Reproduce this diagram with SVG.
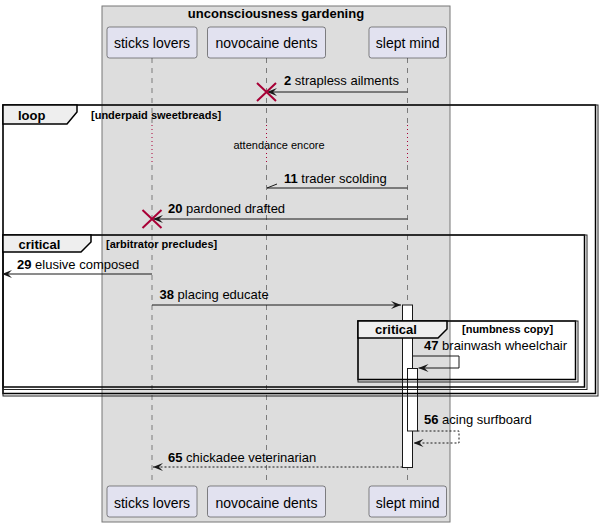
<svg xmlns="http://www.w3.org/2000/svg" width="602" height="527" viewBox="0 0 602 527">
<style>
text{font-family:"Liberation Sans",Arial,sans-serif;fill:#000}
.pbox{fill:#E2E2F0;stroke:#181818;stroke-width:0.5}
.pname{font-size:14px;text-anchor:middle}
.life{stroke:#181818;stroke-width:0.5;stroke-dasharray:5,5;fill:none}
.delay{stroke:#A80036;stroke-width:1;stroke-dasharray:1,3;fill:none}
.msg{stroke:#181818;stroke-width:1;fill:none}
.dash{stroke-dasharray:2,2}
.lbl{font-size:13px}
.num{font-weight:bold}
.frame{fill:none;stroke:#000;stroke-width:1.5}
.frame2{fill:none;stroke:#222;stroke-width:1}
.tab{fill:#EEEEEE;stroke:#000;stroke-width:1.5}
.ftitle{font-size:13px;font-weight:bold}
.fcond{font-size:11px;font-weight:bold}
.act{fill:#FFFFFF;stroke:#181818;stroke-width:1}
.kill{stroke:#A80036;stroke-width:2}
</style>
<defs>
<marker id="ah" viewBox="0 0 10 10" markerWidth="10" markerHeight="10" refX="10" refY="5" orient="auto" markerUnits="userSpaceOnUse">
<path d="M0,1 L10,5 L0,9 L4,5 Z" fill="#181818"/>
</marker>
</defs>

<g id="box">
<rect x="102" y="6" width="348" height="516" fill="#DDDDDD" stroke="#777777" stroke-width="1"/>
<text x="276" y="18" class="ftitle" text-anchor="middle">unconsciousness gardening</text>
</g>

<g id="lifelines">
<path class="life" d="M152,58 V125 M152,165 V485"/>
<path class="life" d="M266.5,58 V125 M266.5,165 V485"/>
<path class="life" d="M407.5,58 V125 M407.5,165 V485"/>
<path class="delay" d="M152,125 V165 M266.5,125 V165 M407.5,125 V165"/>
<text x="279" y="149" font-size="11" text-anchor="middle">attendance encore</text>
</g>

<g id="sticks-lovers">
<rect class="pbox" x="107" y="27" width="90" height="31" rx="2.5"/>
<text class="pname" x="152" y="48">sticks lovers</text>
<rect class="pbox" x="107" y="486" width="90" height="31" rx="2.5"/>
<text class="pname" x="152" y="508">sticks lovers</text>
</g>
<g id="novocaine-dents">
<rect class="pbox" x="207.5" y="27" width="118" height="31" rx="2.5"/>
<text class="pname" x="266.5" y="48">novocaine dents</text>
<rect class="pbox" x="207.5" y="486" width="118" height="31" rx="2.5"/>
<text class="pname" x="266.5" y="508">novocaine dents</text>
</g>
<g id="slept-mind">
<rect class="pbox" x="369" y="27" width="77.5" height="31" rx="2.5"/>
<text class="pname" x="407.7" y="48">slept mind</text>
<rect class="pbox" x="369" y="486" width="77.5" height="31" rx="2.5"/>
<text class="pname" x="407.7" y="508">slept mind</text>
</g>

<g id="activations">
<rect class="act" x="402.5" y="305" width="10" height="162.5"/>
<rect class="act" x="407.5" y="368.5" width="10" height="62.5"/>
</g>

<g id="loop-frame">
<rect class="frame" x="3" y="105" width="592.5" height="288.5"/>
<rect class="frame2" x="3" y="105" width="595" height="291"/>
<path class="tab" d="M3,105 L77,105 L77,112 L67,124 L3,124 Z"/>
<text class="ftitle" x="18" y="120">loop</text>
<text class="fcond" x="91" y="119">[underpaid sweetbreads]</text>
</g>

<g id="critical-frame">
<rect class="frame" x="3" y="235" width="581.5" height="152"/>
<rect class="frame2" x="3" y="235" width="584" height="154.5"/>
<path class="tab" d="M3,235 L91,235 L91,242 L81,252 L3,252 Z"/>
<text class="ftitle" x="18.5" y="249">critical</text>
<text class="fcond" x="106" y="248">[arbitrator precludes]</text>
</g>

<g id="nested-critical-frame">
<rect class="frame" x="358" y="321" width="217.5" height="58.5"/>
<rect class="frame2" x="358" y="321" width="220" height="61"/>
<path class="tab" d="M358,321 L447,321 L447,329 L438,338 L358,338 Z"/>
<text class="ftitle" x="375" y="334">critical</text>
<text class="fcond" x="462" y="333">[numbness copy]</text>
</g>

<g id="connectors">
<path class="msg" d="M407.5,92 H267" marker-end="url(#ah)"/>
<text class="lbl" x="284" y="85"><tspan class="num">2</tspan> strapless ailments</text>

<path class="msg" d="M407.5,188 H267 L277,184"/>
<text class="lbl" x="284" y="183"><tspan class="num">11</tspan> trader scolding</text>

<path class="msg" d="M407.5,219 H153" marker-end="url(#ah)"/>
<text class="lbl" x="168" y="213"><tspan class="num">20</tspan> pardoned drafted</text>

<path class="msg" d="M152,274 H2" marker-end="url(#ah)"/>
<text class="lbl" x="17" y="269"><tspan class="num">29</tspan> elusive composed</text>

<path class="msg" d="M152,305 H401" marker-end="url(#ah)"/>
<text class="lbl" x="159.5" y="299"><tspan class="num">38</tspan> placing educate</text>

<path class="msg" d="M412.5,356 H459 V368 H418.5" marker-end="url(#ah)"/>
<text class="lbl" x="424" y="350"><tspan class="num">47</tspan> brainwash wheelchair</text>

<path class="msg dash" d="M417.5,431 H459 V443 H413.5" marker-end="url(#ah)"/>
<text class="lbl" x="424" y="424"><tspan class="num">56</tspan> acing surfboard</text>

<path class="msg dash" d="M402.5,467 H153" marker-end="url(#ah)"/>
<text class="lbl" x="168" y="462"><tspan class="num">65</tspan> chickadee veterinarian</text>

<path class="kill" d="M257,83 L276,101 M276,83 L257,101"/>
<path class="kill" d="M142.5,210 L161.5,228 M161.5,210 L142.5,228"/>
</g>
</svg>
